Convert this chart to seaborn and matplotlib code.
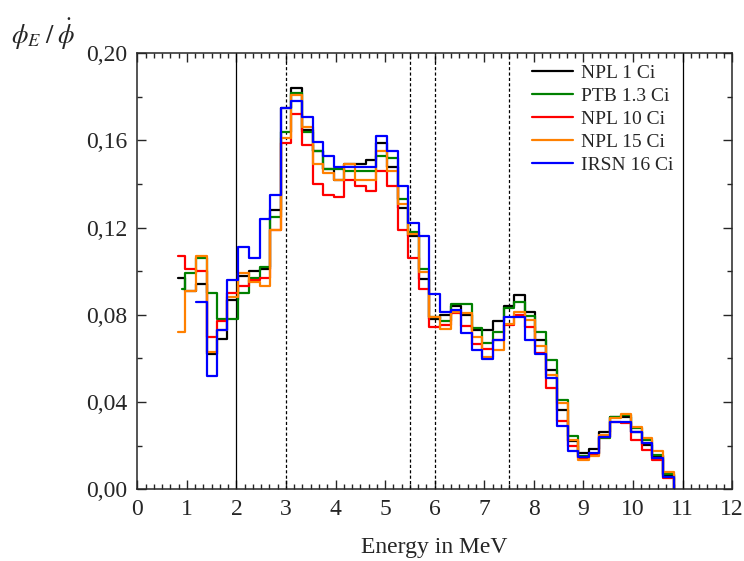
import matplotlib
matplotlib.use("Agg")
import matplotlib.pyplot as plt
from matplotlib.ticker import AutoMinorLocator, FuncFormatter
import seaborn as sns

# bin edges in MeV (ISO Am-Be groups)
edges = [0.75, 0.97, 1.18, 1.40, 1.61, 1.82, 2.04, 2.25, 2.47, 2.68,
         2.90, 3.11, 3.32, 3.54, 3.75, 3.97, 4.18, 4.39, 4.61, 4.82,
         5.04, 5.25, 5.47, 5.68, 5.89, 6.11, 6.32, 6.54, 6.75, 6.96,
         7.18, 7.39, 7.61, 7.82, 8.03, 8.25, 8.46, 8.68, 8.89, 9.11,
         9.32, 9.54, 9.75, 9.96, 10.18, 10.39, 10.61, 10.82]

npl1 = [0.097, 0.091, 0.094, 0.062, 0.069, 0.087, 0.098, 0.100, 0.101, 0.128,
        0.175, 0.184, 0.165, 0.155, 0.147, 0.142, 0.149, 0.149, 0.151, 0.159,
        0.148, 0.129, 0.116, 0.0965, 0.078, 0.080, 0.084, 0.080, 0.073, 0.073,
        0.077, 0.084, 0.089, 0.0815, 0.0685, 0.0547, 0.0364, 0.022, 0.0165, 0.0183,
        0.0264, 0.0333, 0.0333, 0.0264, 0.0203, 0.0153, 0.0066]
ptb13 = [0.092, 0.099, 0.106, 0.090, 0.078, 0.078, 0.090, 0.097, 0.102, 0.125,
         0.164, 0.182, 0.164, 0.155, 0.147, 0.147, 0.146, 0.146, 0.146, 0.153,
         0.152, 0.133, 0.118, 0.101, 0.079, 0.077, 0.085, 0.085, 0.074, 0.067,
         0.072, 0.083, 0.086, 0.0795, 0.0723, 0.0593, 0.041, 0.0245, 0.0153, 0.016,
         0.0234, 0.033, 0.034, 0.028, 0.0226, 0.0157, 0.007]
npl10 = [0.107, 0.101, 0.100, 0.070, 0.077, 0.090, 0.093, 0.096, 0.097, 0.119,
         0.159, 0.172, 0.158, 0.140, 0.135, 0.134, 0.142, 0.139, 0.137, 0.146,
         0.139, 0.119, 0.106, 0.0917, 0.0743, 0.0754, 0.081, 0.0749, 0.0665, 0.0642,
         0.0685, 0.0754, 0.080, 0.0746, 0.0627, 0.0463, 0.0313, 0.020, 0.0142, 0.016,
         0.024, 0.0306, 0.0303, 0.0226, 0.018, 0.0134, 0.005]
npl15 = [0.072, 0.091, 0.107, 0.063, 0.073, 0.088, 0.099, 0.095, 0.093, 0.119,
         0.161, 0.181, 0.166, 0.149, 0.145, 0.142, 0.149, 0.142, 0.142, 0.155,
         0.146, 0.131, 0.117, 0.0995, 0.079, 0.0735, 0.0815, 0.081, 0.070, 0.0606,
         0.064, 0.076, 0.0815, 0.0777, 0.0657, 0.0524, 0.0394, 0.0226, 0.0134, 0.015,
         0.0249, 0.0326, 0.0344, 0.0287, 0.0234, 0.0173, 0.0081]
# IRSN starts at the 1.18 MeV bin
irsn16 = [0.086, 0.052, 0.073, 0.096, 0.111, 0.106, 0.124, 0.135,
          0.175, 0.178, 0.171, 0.1595, 0.153, 0.148, 0.148, 0.148, 0.148, 0.162,
          0.155, 0.139, 0.122, 0.116, 0.0896, 0.0815, 0.0822, 0.0718, 0.064, 0.0596,
          0.0685, 0.079, 0.079, 0.0685, 0.062, 0.051, 0.029, 0.0173, 0.0147, 0.0165,
          0.0241, 0.031, 0.031, 0.0264, 0.0211, 0.0142, 0.0058]

labels = ["NPL 1 Ci", "PTB 1.3 Ci", "NPL 10 Ci", "NPL 15 Ci", "IRSN 16 Ci"]
series = [npl1, ptb13, npl10, npl15, irsn16]
first_bin = [0, 0, 0, 0, 2]
start_energy = [0.83, 0.90, 0.83, 0.83, 1.18]
colors = ["black", "#008000", "#ff0000", "#ff8000", "#0000ff"]

solid_lines = [2, 11]
dotted_lines = [3, 5.5, 6, 7.5]

sns.set_style("ticks")
plt.rcParams["font.family"] = ["Liberation Serif", "DejaVu Serif"]
plt.rcParams["mathtext.fontset"] = "stix"

fig = plt.figure(figsize=(7.44, 5.61), dpi=100)
ax = fig.add_axes([0.1845, 0.128, 0.7995, 0.777])

for xv in solid_lines:
    ax.axvline(xv, color="black", lw=0.9)
for xv in dotted_lines:
    ax.axvline(xv, color="black", lw=0.9, ls=(0, (2.5, 1.8)))

for name, vals, b0, e0, c in zip(labels, series, first_bin, start_energy, colors):
    x = [e0] + edges[b0 + 1:]
    y = vals + [0.0]
    sns.lineplot(x=x, y=y, color=c, lw=1.6, drawstyle="steps-post",
                 estimator=None, sort=False, label=name, ax=ax)

ax.set_xlim(0, 12)
ax.set_ylim(0, 0.20)
ax.set_xticks(range(0, 13))
ax.set_yticks([0, 0.04, 0.08, 0.12, 0.16, 0.20])
ax.xaxis.set_minor_locator(AutoMinorLocator(6))
ax.yaxis.set_minor_locator(AutoMinorLocator(2))
ax.yaxis.set_major_formatter(FuncFormatter(lambda v, p: f"{v:.2f}".replace(".", ",")))
ax.tick_params(which="both", direction="in", top=True, right=True, labelsize=17, width=1.0)
ax.tick_params(which="major", length=6.5, pad=7)
ax.tick_params(which="minor", length=3.5)
for s in ax.spines.values():
    s.set_linewidth(1.1)

ax.set_xlabel("Energy in MeV", fontsize=17, labelpad=12)
ax.set_ylabel("")
fig.text(0.058, 0.938, r"$\phi_E\;/\;\dot{\phi}$", fontsize=19, ha="center", va="center")

ax.legend(loc="upper left", bbox_to_anchor=(0.663, 0.975), frameon=False,
          fontsize=14, handlelength=2.15, handletextpad=0.4, labelspacing=0.28,
          borderpad=0, borderaxespad=0)

fig.savefig("out.png", dpi=100)
